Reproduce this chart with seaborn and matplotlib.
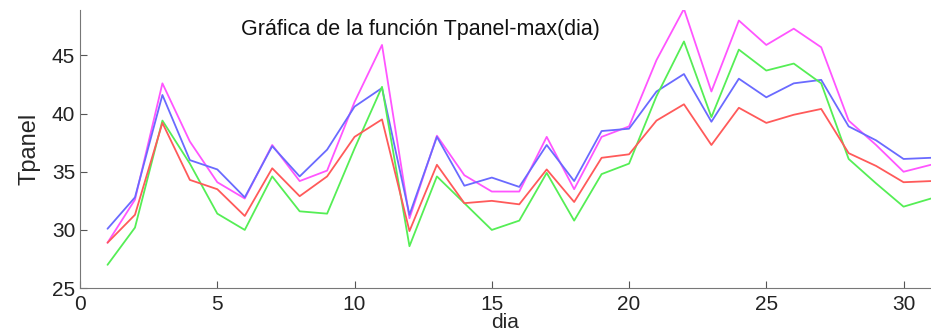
import pandas as pd
import numpy as np
import seaborn as sns
import matplotlib.pyplot as plt

dias = list(range(1, 32))

t_magenta = [28.9, 32.6, 42.6, 37.6, 34.1, 32.7, 37.3, 34.2, 35.1, 41.0,
             45.9, 31.0, 38.1, 34.7, 33.3, 33.3, 38.0, 33.5, 38.0, 38.9,
             44.6, 49.0, 41.9, 48.0, 45.9, 47.3, 45.7, 39.4, 37.3, 35.0, 35.6]
t_azul = [30.1, 32.8, 41.6, 36.0, 35.2, 32.8, 37.2, 34.6, 36.9, 40.6,
          42.2, 31.3, 38.0, 33.8, 34.5, 33.7, 37.3, 34.2, 38.5, 38.7,
          41.9, 43.4, 39.3, 43.0, 41.4, 42.6, 42.9, 38.9, 37.7, 36.1, 36.2]
t_verde = [27.0, 30.2, 39.4, 35.7, 31.4, 30.0, 34.6, 31.6, 31.4, 37.0,
           42.3, 28.6, 34.6, 32.3, 30.0, 30.8, 34.9, 30.8, 34.8, 35.7,
           41.5, 46.2, 39.7, 45.5, 43.7, 44.3, 42.6, 36.1, 34.0, 32.0, 32.7]
t_rojo = [28.9, 31.3, 39.2, 34.3, 33.5, 31.2, 35.3, 32.9, 34.6, 38.0,
          39.5, 29.9, 35.6, 32.3, 32.5, 32.2, 35.2, 32.4, 36.2, 36.5,
          39.4, 40.8, 37.3, 40.5, 39.2, 39.9, 40.4, 36.6, 35.5, 34.1, 34.2]

series = {"magenta": t_magenta, "azul": t_azul, "verde": t_verde, "rojo": t_rojo}
colores = {"magenta": "#ff55ff", "azul": "#6a6aff", "verde": "#55ee55", "rojo": "#ff5a5a"}

df = pd.DataFrame(series)
df["dia"] = dias
df_long = df.melt(id_vars="dia", var_name="serie", value_name="Tpanel")

sns.set_style("ticks")
plt.rcParams['font.family'] = ['Liberation Sans', 'DejaVu Sans']

fig = plt.figure(figsize=(9.31, 3.35), dpi=100)
ax = fig.add_axes([0.086, 0.14, 0.914, 0.83])

sns.lineplot(data=df_long, x="dia", y="Tpanel", hue="serie",
             palette=colores, linewidth=1.3, legend=False, ax=ax)

ax.set_xlim(0, 31)
ax.set_ylim(25, 48.9)
ax.set_xticks([0, 5, 10, 15, 20, 25, 30])
ax.set_yticks([25, 30, 35, 40, 45])
ax.tick_params(direction="in", labelsize=15, colors="#555555", labelcolor="#222222", length=5)
ax.tick_params(axis="x", pad=5)
for s in ["top", "right"]:
    ax.spines[s].set_visible(False)
for s in ["left", "bottom"]:
    ax.spines[s].set_color("#777777")

ax.set_xlabel("dia", fontsize=15, labelpad=-1)
ax.set_ylabel("Tpanel", fontsize=17, labelpad=8)
ax.text(0.40, 0.93, "Gráfica de la función Tpanel-max(dia)", transform=ax.transAxes,
        ha="center", va="center", fontsize=15.5, color="#111111")

fig.savefig("out.png", dpi=100)
